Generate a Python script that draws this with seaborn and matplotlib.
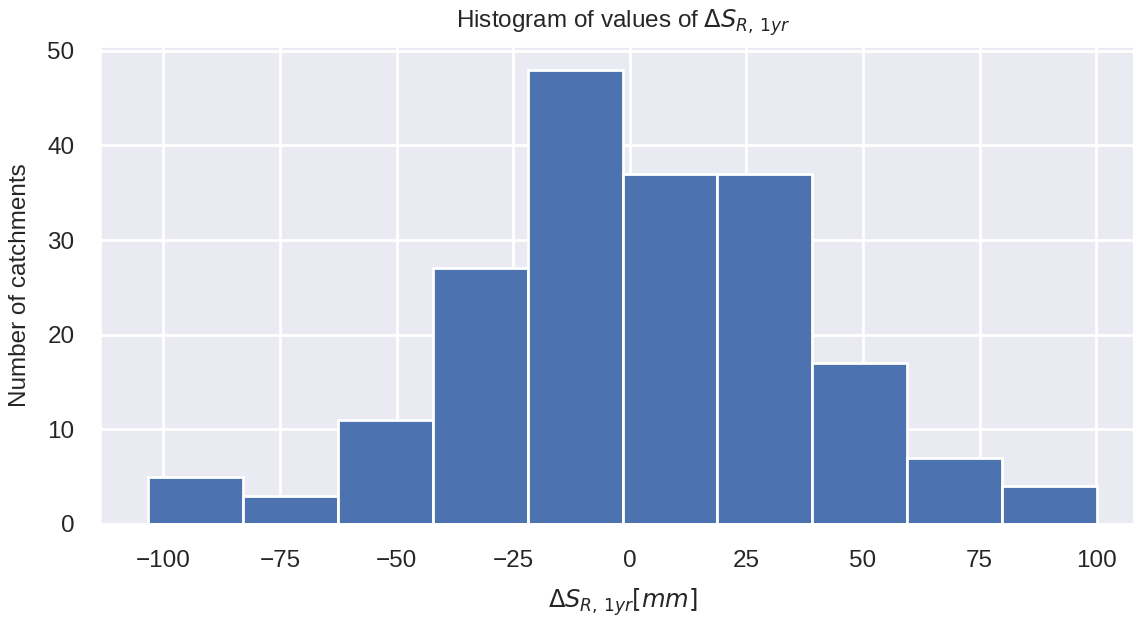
import numpy as np
import pandas as pd
import matplotlib
matplotlib.use("Agg")
import matplotlib.pyplot as plt
import seaborn as sns

# Histogram bins (mm) and catchment counts per bin
bin_edges = [-103.2, -82.87, -62.54, -42.21, -21.88, -1.55, 18.78, 39.11, 59.44, 79.77, 100.1]
counts = [5, 3, 11, 27, 48, 37, 37, 17, 7, 4]

centers = [(a + b) / 2 for a, b in zip(bin_edges[:-1], bin_edges[1:])]
df = pd.DataFrame({"dS": centers, "n": counts})

sns.set_theme(style="darkgrid", context="notebook")
plt.rcParams["font.family"] = ["Liberation Sans", "DejaVu Sans"]
plt.rcParams["grid.linewidth"] = 2.0
plt.rcParams["text.color"] = "#262626"

fig = plt.figure(figsize=(11.33, 6.19), dpi=100)
ax = fig.add_axes([101 / 1133, 1 - 524 / 619, (1144 - 101) / 1133, (524 - 47) / 619])

sns.histplot(data=df, x="dS", weights="n", bins=bin_edges, ax=ax,
             color="#4C72B0", alpha=1, edgecolor="white", linewidth=2.0)

ax.set_title(r"Histogram of values of $\Delta S_{R,\,1yr}$", fontsize=17.5, pad=14)
ax.set_xlabel(r"$\Delta S_{R,\,1yr} [mm]$", fontsize=17.5, labelpad=10)
ax.set_ylabel("Number of catchments", fontsize=17.5, labelpad=12)
ax.tick_params(axis="both", labelsize=17.5, pad=13, colors="#262626")
ax.set_xticks([-100, -75, -50, -25, 0, 25, 50, 75, 100])
ax.set_yticks([0, 10, 20, 30, 40, 50])

fig.savefig("out.png", dpi=100)
